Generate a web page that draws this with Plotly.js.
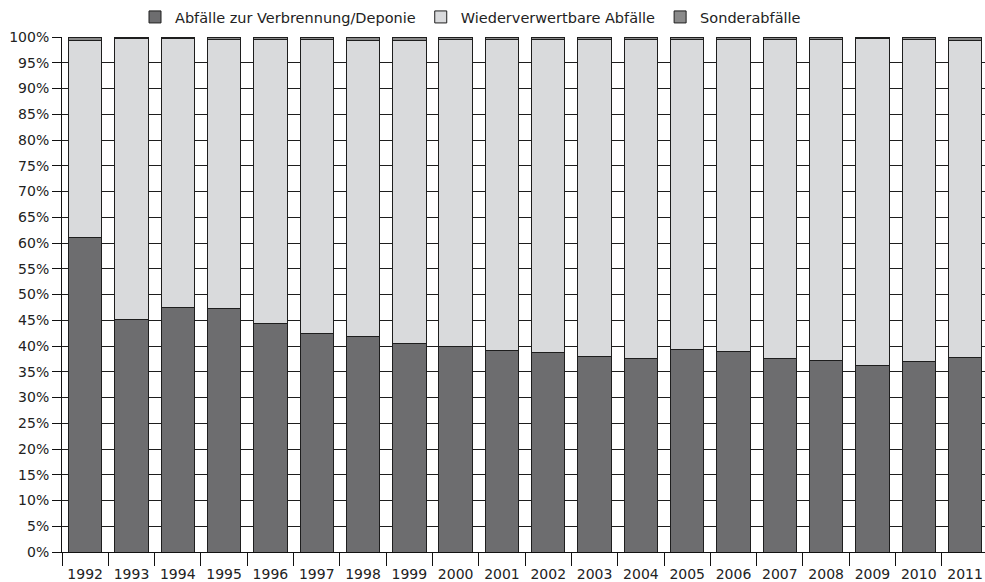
<!DOCTYPE html>
<html>
<head>
<meta charset="utf-8">
<script src="https://cdn.plot.ly/plotly-3.0.1.min.js"></script>
<style>
  html, body { margin: 0; padding: 0; background: #fff; }
  #chart { width: 985px; height: 582px; }
</style>
</head>
<body>
<div id="chart"></div>
<script>
// Jahre
const jahre = ["1992", "1993", "1994", "1995", "1996", "1997", "1998", "1999", "2000", "2001",
               "2002", "2003", "2004", "2005", "2006", "2007", "2008", "2009", "2010", "2011"];

// Anteile in Prozent
const verbrennungDeponie = [61.0, 45.1, 47.5, 47.2, 44.3, 42.5, 41.8, 40.4, 39.9, 39.2,
                            38.7, 37.9, 37.5, 39.3, 38.9, 37.5, 37.1, 36.2, 36.9, 37.7];
const sonderabfaelle = [0.6, 0.3, 0.3, 0.5, 0.4, 0.4, 0.6, 0.6, 0.5, 0.5,
                        0.4, 0.4, 0.4, 0.4, 0.4, 0.4, 0.4, 0.3, 0.4, 0.7];
const wiederverwertbar = verbrennungDeponie.map((v, i) => +(100 - v - sonderabfaelle[i]).toFixed(1));

const yTicks = [0, 5, 10, 15, 20, 25, 30, 35, 40, 45, 50, 55, 60, 65, 70, 75, 80, 85, 90, 95, 100];

const rand = { color: "#1e1e1e", width: 1 };

const traces = [
    { x: jahre, y: verbrennungDeponie, type: "bar", name: "Abfälle zur Verbrennung/Deponie",
      marker: { color: "#6d6d6f", line: rand } },
    { x: jahre, y: wiederverwertbar, type: "bar", name: "Wiederverwertbare Abfälle",
      marker: { color: "#d9dadc", line: rand } },
    { x: jahre, y: sonderabfaelle, type: "bar", name: "Sonderabfälle",
      marker: { color: "#8a8a8a", line: rand } }
];

const layout = {
    width: 985,
    height: 582,
    margin: { l: 62, r: 0, t: 37, b: 30 },
    barmode: "stack",
    bargap: 0.28,
    paper_bgcolor: "#fff",
    plot_bgcolor: "#fff",
    font: { family: "DejaVu Sans, Verdana, sans-serif", size: 14, color: "#222" },
    hovermode: false,
    showlegend: true,
    legend: {
        orientation: "h",
        xref: "container", yref: "container",
        x: 135 / 985, xanchor: "left",
        y: 1 - 1 / 582, yanchor: "top",
        font: { size: 14.5, color: "#222" },
        traceorder: "normal"
    },
    xaxis: {
        type: "category",
        range: [-0.5, 19.43],
        showline: true,
        linecolor: "#111",
        linewidth: 1,
        ticks: "outside",
        tickson: "boundaries",
        ticklen: 13,
        tickcolor: "#111",
        ticklabelstandoff: 9,
        showgrid: false,
        tickfont: { size: 14 }
    },
    yaxis: {
        range: [0, 100],
        tickvals: yTicks,
        ticktext: yTicks.map(v => v + "%"),
        showline: true,
        linecolor: "#111",
        linewidth: 1,
        ticks: "outside",
        ticklen: 9,
        tickcolor: "#111",
        showgrid: true,
        gridcolor: "#1e1e1e",
        gridwidth: 1,
        zeroline: false,
        tickfont: { size: 14 }
    }
};

Plotly.newPlot("chart", traces, layout, { staticPlot: true });
</script>
</body>
</html>
